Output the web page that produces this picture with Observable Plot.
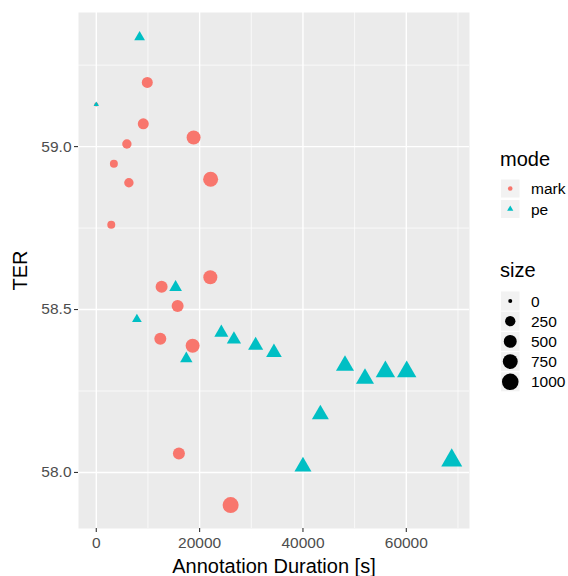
<!DOCTYPE html>
<html>
<head>
<meta charset="utf-8">
<script src="https://cdn.jsdelivr.net/npm/d3@7"></script>
<script src="https://cdn.jsdelivr.net/npm/@observablehq/plot@0.6"></script>
<style>
  html, body { margin: 0; padding: 0; background: white; }
  #wrap { position: relative; width: 568px; height: 576px; font-family: "Liberation Sans", Arial, sans-serif; }
  #legend { position: absolute; left: 0; top: 0; }
</style>
</head>
<body>
<div id="wrap"></div>
<script>
// ---- data ----
const modes = ["mark", "pe"];
const markX = [0, 9874, 9100, 5924, 3408, 6312, 2904, 18838, 22130, 12643, 22072, 15741, 12391, 18645, 15992, 26002];
const markY = [59.129, 59.197, 59.070, 59.008, 58.947, 58.889, 58.760, 59.028, 58.900, 58.570, 58.599, 58.511, 58.410, 58.389, 58.058, 57.900];
const markSize = [0, 309, 309, 184, 100, 184, 100, 630, 762, 403, 630, 403, 403, 630, 403, 907];
const peX = [0, 8383, 15353, 7861, 17425, 24201, 26641, 30842, 34385, 48133, 52004, 55953, 60077, 43369, 40000, 68790];
const peY = [59.129, 59.336, 58.568, 58.470, 58.349, 58.429, 58.408, 58.390, 58.368, 58.328, 58.288, 58.309, 58.309, 58.178, 58.018, 58.037];
const peSize = [0, 100, 185, 65, 170, 258, 274, 327, 364, 556, 556, 681, 681, 466, 466, 847];
const xTicks = [0, 20000, 40000, 60000];
const xMinor = [10000, 30000, 50000, 70000];
const yTicks = [58.0, 58.5, 59.0];
const yMinor = [58.25, 58.75, 59.25];
const sizeBreaks = [0, 250, 500, 750, 1000];
const modeColors = ["#F8766D", "#00BFC4"];

const data = [
  ...markX.map((x, i) => ({mode: "mark", x, y: markY[i], size: markSize[i]})),
  ...peX.map((x, i) => ({mode: "pe", x, y: peY[i], size: peSize[i]}))
];

const FONT = "'Liberation Sans', Arial, sans-serif";
const plot = Plot.plot({
  width: 568, height: 576,
  marginLeft: 78, marginRight: 99, marginTop: 12, marginBottom: 48,
  style: {fontFamily: FONT, fontSize: "15.5px", background: "white"},
  x: {domain: [-3440, 72230], label: null},
  y: {domain: [57.828, 59.4115], label: null},
  r: {type: "sqrt", domain: [0, 1000], range: [2, 8.3]},
  color: {domain: modes, range: modeColors},
  symbol: {domain: modes, range: ["circle", "triangle"]},
  marks: [
    Plot.frame({fill: "#EBEBEB", stroke: null}),
    Plot.gridX(xMinor, {stroke: "white", strokeOpacity: 1, strokeWidth: 0.7}),
    Plot.gridY(yMinor, {stroke: "white", strokeOpacity: 1, strokeWidth: 0.7}),
    Plot.gridX(xTicks, {stroke: "white", strokeOpacity: 1, strokeWidth: 1.4}),
    Plot.gridY(yTicks, {stroke: "white", strokeOpacity: 1, strokeWidth: 1.4}),
    Plot.axisX(xTicks, {tickSize: 4, tickPadding: 4, stroke: "#333333", strokeWidth: 1.1, fill: "#4D4D4D",
      tickFormat: d => String(d), label: null}),
    Plot.axisY(yTicks, {tickSize: 4, tickPadding: 3, stroke: "#333333", strokeWidth: 1.1, fill: "#4D4D4D",
      tickFormat: d3.format(".1f"), label: null}),
    Plot.dot(data, {x: "x", y: "y", r: "size", fill: "mode", symbol: "mode", stroke: null}),
    Plot.text(["Annotation Duration [s]"], {frameAnchor: "bottom", lineAnchor: "bottom", dy: 44, fontSize: 20, fill: "black"}),
    Plot.text(["TER"], {frameAnchor: "left", rotate: -90, lineAnchor: "bottom", textAnchor: "middle", dx: -52, fontSize: 20, fill: "black"})
  ]
});
document.getElementById("wrap").appendChild(plot);

// ---- legend (ggplot-style, on the right) ----
const rScale = plot.scale("r");
const cScale = plot.scale("color");
const svg = d3.select("#wrap").append("svg")
  .attr("id", "legend").attr("width", 568).attr("height", 576)
  .style("font-family", FONT).style("pointer-events", "none");

const keyX = 501, keyW = 18.5, labelX = 531;
// mode legend
svg.append("text").attr("x", 500).attr("y", 166).attr("font-size", 20).text("mode");
modes.forEach((m, i) => {
  const y0 = 179.5 + i * 20.5, h = 18;
  svg.append("rect").attr("x", keyX).attr("y", y0).attr("width", keyW).attr("height", h).attr("fill", "#F2F2F2");
  const cx = keyX + keyW / 2, cy = y0 + h / 2;
  const sym = m === "mark" ? d3.symbolCircle : d3.symbolTriangle;
  svg.append("path").attr("transform", `translate(${cx},${cy})`)
    .attr("d", d3.symbol(sym, Math.PI * 2.3 * 2.3)()).attr("fill", cScale.apply(m));
  svg.append("text").attr("x", labelX).attr("y", cy).attr("dy", "0.36em").attr("font-size", 15.5).attr("fill", "black").text(m);
});
// size legend
svg.append("text").attr("x", 500).attr("y", 277).attr("font-size", 20).text("size");
sizeBreaks.forEach((v, i) => {
  const y0 = 291.5 + i * 20.2, h = 19;
  svg.append("rect").attr("x", keyX).attr("y", y0).attr("width", keyW).attr("height", h).attr("fill", "#F2F2F2");
  const cx = keyX + keyW / 2, cy = y0 + h / 2;
  const r = rScale.apply(v);
  svg.append("circle").attr("cx", cx).attr("cy", cy).attr("r", r).attr("fill", "black");
  svg.append("text").attr("x", labelX).attr("y", cy).attr("dy", "0.36em").attr("font-size", 15.5).attr("fill", "black").text(v);
});
</script>
</body>
</html>
